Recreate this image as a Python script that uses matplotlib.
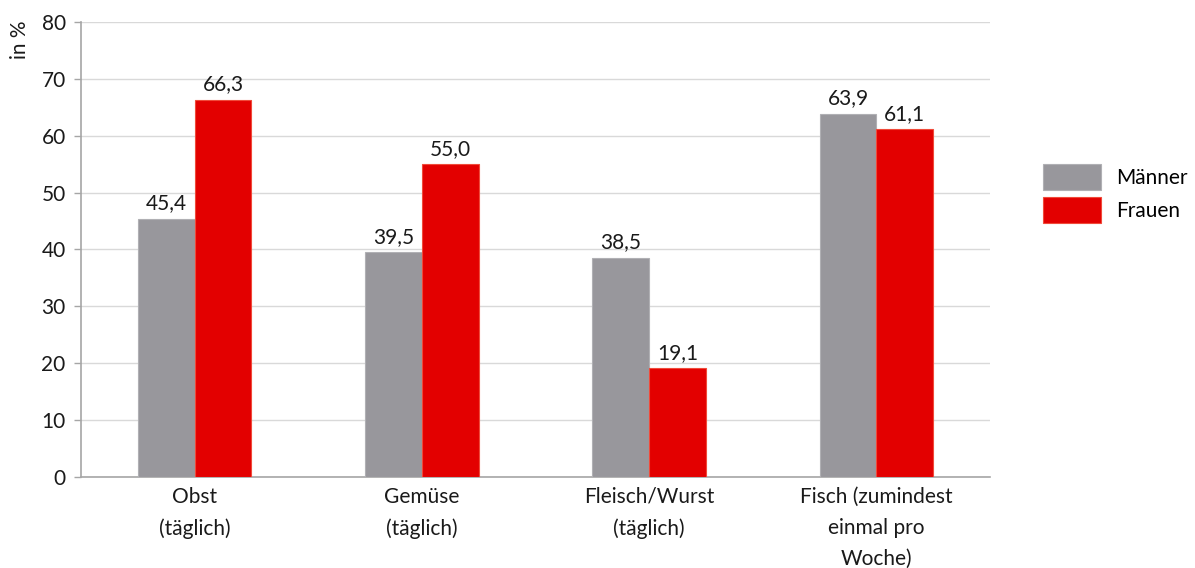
import matplotlib
matplotlib.use("Agg")
import matplotlib.pyplot as plt
import numpy as np

plt.rcParams['font.family'] = ['Lato', 'DejaVu Sans']

categories = ["Obst\n(täglich)", "Gemüse\n(täglich)", "Fleisch/Wurst\n(täglich)",
              "Fisch (zumindest\neinmal pro\nWoche)"]
maenner = [45.4, 39.5, 38.5, 63.9]
frauen = [66.3, 55.0, 19.1, 61.1]
series_names = ["Männer", "Frauen"]
y_ticks = [0, 10, 20, 30, 40, 50, 60, 70, 80]

GRAY = "#98979c"
RED = "#e30000"
TXT = "#1a1a1a"
FS = 15

fig = plt.figure(figsize=(11.95, 5.68), dpi=100)
ax = fig.add_axes([0.0678, 0.1602, 0.7607, 0.8011])

x = np.arange(len(categories))
w = 0.25
b1 = ax.bar(x - w / 2, maenner, w, color=GRAY, edgecolor="#b0b0b4", linewidth=0.8,
            label=series_names[0], zorder=3)
b2 = ax.bar(x + w / 2, frauen, w, color=RED, edgecolor="#f04a3a", linewidth=0.8,
            label=series_names[1], zorder=3)

for bars, vals in ((b1, maenner), (b2, frauen)):
    for rect, v in zip(bars, vals):
        ax.annotate(f"{v:.1f}".replace(".", ","),
                    (rect.get_x() + rect.get_width() / 2, v),
                    xytext=(0, 4), textcoords="offset points",
                    ha="center", va="bottom", fontsize=FS, color=TXT)

ax.set_xlim(-0.5, len(categories) - 0.5)
ax.set_ylim(0, 80)
ax.set_yticks(y_ticks)
ax.set_yticklabels([str(t) for t in y_ticks], fontsize=FS, color=TXT)
ax.set_xticks(x)
ax.set_xticklabels(categories, fontsize=FS, color=TXT, linespacing=1.7)
ax.tick_params(axis="x", length=0, pad=7)
ax.tick_params(axis="y", length=5, width=1, color="#a6a6a6", pad=6)

ax.grid(axis="y", color="#d9d9d9", linewidth=1, zorder=0)
for s in ("top", "right"):
    ax.spines[s].set_visible(False)
for s in ("left", "bottom"):
    ax.spines[s].set_color("#a6a6a6")
    ax.spines[s].set_linewidth(1.2)

fig.text(20 / 1195, 1 - 40 / 568, "in %", rotation=90, ha="center", va="center",
         fontsize=FS, color=TXT)

fig.legend(handles=[b1, b2], labels=series_names, loc="upper left",
           bbox_to_anchor=(1035 / 1195, 1 - 156 / 568), frameon=False,
           fontsize=FS, handlelength=2.75, handleheight=1.55, labelspacing=0.3,
           handletextpad=0.75, borderaxespad=0)

fig.savefig("out.png", dpi=100)
